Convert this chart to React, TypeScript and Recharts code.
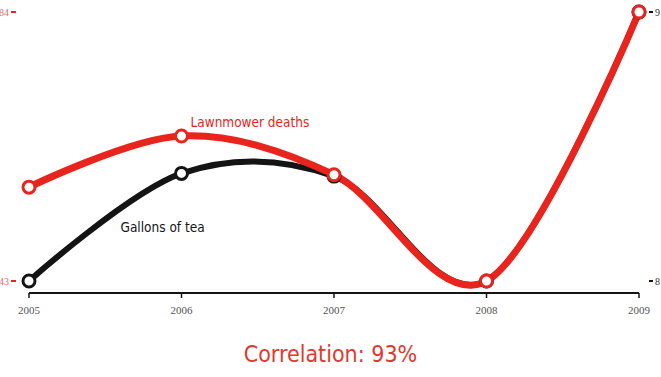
import React from "react";
import { LineChart, Line, XAxis, YAxis, LabelList } from "recharts";

const years = ["2005", "2006", "2007", "2008", "2009"];
const lawnmowerDeaths = [57.3, 65.1, 59.2, 43, 84];
const gallonsOfTea = [8.0, 8.4, 8.39, 8.0, 9.0];
const leftTicks = [43, 84];
const rightTicks = [8, 9];

const data = years.map((y, i) => ({
  year: y,
  deaths: lawnmowerDeaths[i],
  tea: gallonsOfTea[i],
}));

const RED = "#e8241c";
const BLACK = "#141414";
const HAND = "'Liberation Sans Narrow', 'DejaVu Sans Condensed', 'Open Sans', sans-serif";

// Cardinal spline curve factory (tension 0), compatible with d3-shape's curve interface
class CardinalCurve {
  _context: any;
  _k: number;
  _line: number = NaN;
  _point = 0;
  _x0 = NaN; _x1 = NaN; _x2 = NaN; _y0 = NaN; _y1 = NaN; _y2 = NaN;
  constructor(context: any, tension: number) {
    this._context = context;
    this._k = (1 - tension) / 6;
  }
  areaStart() { this._line = 0; }
  areaEnd() { this._line = NaN; }
  lineStart() {
    this._x0 = this._x1 = this._x2 = this._y0 = this._y1 = this._y2 = NaN;
    this._point = 0;
  }
  lineEnd() {
    switch (this._point) {
      case 2: this._context.lineTo(this._x2, this._y2); break;
      case 3: this._bez(this._x1, this._y1); break;
    }
    if (this._line || (this._line !== 0 && this._point === 1)) this._context.closePath();
    this._line = 1 - this._line;
  }
  _bez(x: number, y: number) {
    this._context.bezierCurveTo(
      this._x1 + this._k * (this._x2 - this._x0),
      this._y1 + this._k * (this._y2 - this._y0),
      this._x2 + this._k * (this._x1 - x),
      this._y2 + this._k * (this._y1 - y),
      this._x2,
      this._y2
    );
  }
  point(x: number, y: number) {
    x = +x; y = +y;
    switch (this._point) {
      case 0:
        this._point = 1;
        if (this._line) this._context.lineTo(x, y); else this._context.moveTo(x, y);
        break;
      case 1:
        this._point = 2; this._x1 = x; this._y1 = y;
        break;
      case 2:
        this._point = 3;
        this._bez(x, y);
        break;
      default:
        this._bez(x, y);
        break;
    }
    this._x0 = this._x1; this._x1 = this._x2; this._x2 = x;
    this._y0 = this._y1; this._y1 = this._y2; this._y2 = y;
  }
}
const curveCardinal = (context: any) => new CardinalCurve(context, 0);

const LeftTick = (props: any) => {
  const { y, payload } = props;
  return (
    <g>
      <text x={9} y={y} dy={4} textAnchor="end" fontFamily="'Liberation Serif', serif" fontSize={10} fill="#e06a6a">
        {payload.value}
      </text>
      <line x1={11} x2={16} y1={y} y2={y} stroke={RED} strokeWidth={2} />
    </g>
  );
};

const RightTick = (props: any) => {
  const { y, payload } = props;
  return (
    <g>
      <line x1={649} x2={653} y1={y} y2={y} stroke={BLACK} strokeWidth={2} />
      <text x={655} y={y} dy={4} textAnchor="start" fontFamily="'Liberation Serif', serif" fontSize={10} fill="#333">
        {payload.value}
      </text>
    </g>
  );
};

const DeathsLabel = (props: any) => {
  const { x, y, index } = props;
  if (index !== 1) return null;
  return (
    <text x={x + 9} y={y - 9} fontFamily={HAND} fontSize={13.5} fill={RED}>
      Lawnmower deaths
    </text>
  );
};

const TeaLabel = (props: any) => {
  const { x, y, index } = props;
  if (index !== 1) return null;
  return (
    <text x={x - 61} y={y + 59} fontFamily={HAND} fontSize={13.5} fill={BLACK}>
      Gallons of tea
    </text>
  );
};

export default function App() {
  return (
    <div style={{ position: "absolute", left: 0, top: 0, width: 661, height: 377, background: "#fff" }}>
      <LineChart width={661} height={377} data={data} margin={{ top: 12, right: 0, bottom: 0, left: 0 }}>
        <XAxis
          dataKey="year"
          height={84}
          axisLine={{ stroke: BLACK, strokeWidth: 2 }}
          tickLine={{ stroke: BLACK, strokeWidth: 1.5 }}
          tickSize={5}
          tickMargin={8}
          tick={{ fill: "#555", fontSize: 11, fontFamily: "'Liberation Serif', serif" }}
        />
        <YAxis
          yAxisId="left"
          orientation="left"
          width={29}
          domain={[43, 84]}
          ticks={leftTicks}
          padding={{ top: 0, bottom: 12 }}
          axisLine={false}
          tickLine={false}
          tick={<LeftTick />}
        />
        <YAxis
          yAxisId="right"
          orientation="right"
          width={22}
          domain={[8, 9]}
          ticks={rightTicks}
          padding={{ top: 0, bottom: 12 }}
          axisLine={false}
          tickLine={false}
          tick={<RightTick />}
        />
        <Line
          yAxisId="right"
          type={curveCardinal as any}
          dataKey="tea"
          stroke={BLACK}
          strokeWidth={6}
          dot={{ r: 6, fill: "#fff", stroke: BLACK, strokeWidth: 3 }}
          isAnimationActive={false}
        >
          <LabelList dataKey="tea" content={<TeaLabel />} />
        </Line>
        <Line
          yAxisId="left"
          type={curveCardinal as any}
          dataKey="deaths"
          stroke={RED}
          strokeWidth={7}
          dot={{ r: 6, fill: "#fff", stroke: RED, strokeWidth: 3 }}
          isAnimationActive={false}
        >
          <LabelList dataKey="deaths" content={<DeathsLabel />} />
        </Line>
      </LineChart>
      <div
        style={{
          position: "absolute",
          left: 0,
          width: 661,
          top: 338,
          textAlign: "center",
          color: "#e0382e",
          fontFamily: HAND,
          fontSize: 23,
          lineHeight: "32px",
        }}
      >
        Correlation: 93%
      </div>
    </div>
  );
}
